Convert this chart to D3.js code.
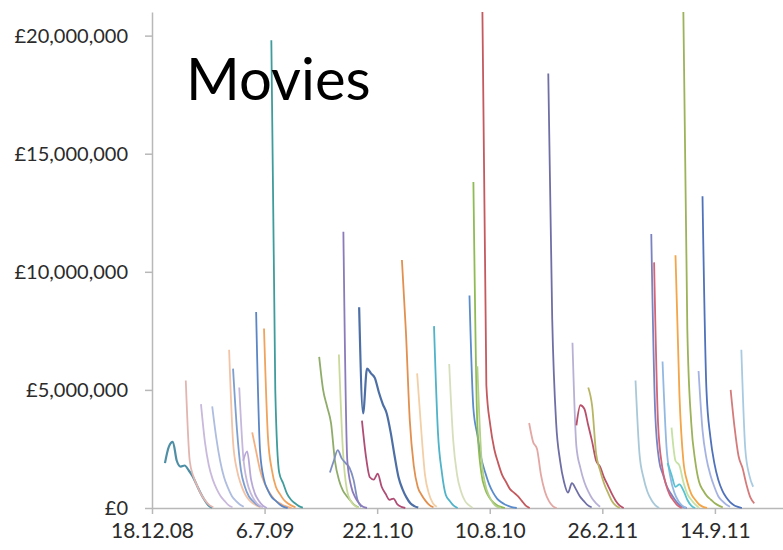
<!DOCTYPE html>
<html>
<head>
<meta charset="utf-8">
<script src="https://cdn.jsdelivr.net/npm/d3@7"></script>
<style>
  body { margin: 0; background: #fff; }
  svg { display: block; font-family: Lato, "Open Sans", sans-serif; }
</style>
</head>
<body>
<svg id="chart"></svg>
<script>
// weekly UK box office per film (GBP millions), first value = opening week
const releaseDates = [
  "2009-01-10", "2009-02-16", "2009-03-15", "2009-04-04", "2009-05-04",
  "2009-05-11", "2009-05-22", "2009-05-29", "2009-06-14", "2009-06-21",
  "2009-07-05", "2009-07-18", "2009-10-11", "2009-11-15", "2009-10-30",
  "2009-11-23", "2009-12-21", "2009-12-26", "2010-03-07", "2010-04-03",
  "2010-05-03", "2010-05-30", "2010-07-05", "2010-07-12", "2010-07-19",
  "2010-07-28", "2010-10-19", "2010-11-22", "2011-01-04", "2011-01-11",
  "2011-02-01", "2011-04-26", "2011-05-24", "2011-05-29", "2011-06-13",
  "2011-06-29", "2011-06-22", "2011-07-06", "2011-07-20", "2011-08-16",
  "2011-08-23", "2011-10-12", "2011-10-31"
];

const weeklyGross = [
  [1.9, 2.6, 2.8, 2.0, 1.75, 1.8, 1.6, 1.35, 1.0, 0.65, 0.35, 0.12, 0.02],
  [5.4, 2.0, 1.3, 0.9, 0.55, 0.3, 0.12, 0.03],
  [4.4, 2.8, 1.8, 1.2, 0.8, 0.5, 0.3, 0.12, 0.03],
  [4.3, 3.0, 2.0, 1.3, 0.85, 0.5, 0.3, 0.15, 0.05],
  [6.7, 2.8, 1.6, 1.0, 0.6, 0.35, 0.2, 0.1, 0.03],
  [5.9, 3.3, 1.6, 0.9, 0.5, 0.3, 0.15, 0.05],
  [5.1, 2.2, 1.1, 0.6, 0.3, 0.12, 0.03],
  [2.0, 2.4, 1.2, 0.6, 0.3, 0.1, 0.0],
  [3.2, 2.4, 1.6, 1.1, 0.75, 0.5, 0.3, 0.2, 0.1, 0.05, 0.0],
  [8.3, 2.4, 1.2, 0.75, 0.45, 0.3, 0.15, 0.05, 0.0],
  [7.6, 3.0, 1.6, 0.9, 0.6, 0.35, 0.2, 0.1, 0.03],
  [19.8, 5.0, 1.5, 1.05, 0.6, 0.35, 0.2, 0.08, 0.02],
  [6.4, 5.0, 4.3, 3.6, 2.0, 1.2, 0.75, 0.5, 0.3, 0.12, 0.03],
  [6.5, 2.5, 0.8, 0.3, 0.1, 0.0],
  [1.5, 2.0, 2.45, 2.1, 1.9, 1.7, 1.2, 0.35, 0.05],
  [11.7, 2.0, 0.9, 0.45, 0.2, 0.05, 0.0],
  [8.5, 4.0, 5.9, 5.7, 5.5, 4.9, 4.4, 4.0, 3.2, 2.2, 1.3, 0.8, 0.45, 0.2, 0.08, 0.02],
  [3.7, 2.2, 1.3, 1.2, 1.45, 0.9, 0.6, 0.35, 0.4, 0.15, 0.05, 0.0],
  [10.5, 7.5, 3.7, 1.8, 0.9, 0.55, 0.3, 0.12, 0.03],
  [5.7, 3.4, 1.4, 0.6, 0.2, 0.05],
  [7.7, 3.2, 1.5, 0.55, 0.3, 0.1, 0.0],
  [6.1, 2.9, 1.4, 0.7, 0.3, 0.12, 0.0],
  [9.0, 4.2, 3.1, 2.1, 1.5, 1.0, 0.65, 0.4, 0.25, 0.15, 0.08, 0.03, 0.0],
  [13.8, 3.5, 1.5, 0.8, 0.45, 0.25, 0.12, 0.05, 0.0],
  [6.0, 2.2, 1.0, 0.5, 0.2, 0.05, 0.0],
  [21.0, 5.2, 3.5, 2.5, 1.9, 1.4, 1.1, 0.8, 0.65, 0.5, 0.3, 0.1, 0.0],
  [3.6, 2.8, 2.5, 1.4, 0.7, 0.3, 0.08, 0.0],
  [18.4, 8.0, 3.6, 2.0, 1.1, 0.65, 1.05, 0.8, 0.5, 0.3, 0.12, 0.03],
  [7.0, 2.6, 1.7, 1.1, 0.7, 0.4, 0.2, 0.05],
  [3.5, 4.35, 4.2, 3.5, 2.8, 2.0, 1.75, 1.3, 0.95, 0.6, 0.3, 0.1, 0.0],
  [5.1, 4.3, 2.3, 1.6, 1.05, 0.65, 0.3, 0.1, 0.0],
  [5.4, 2.3, 1.3, 0.7, 0.35, 0.12, 0.0],
  [11.6, 4.0, 2.0, 1.4, 0.9, 0.6, 0.35, 0.15, 0.05, 0.0],
  [10.4, 3.6, 1.8, 1.0, 0.55, 0.3, 0.1, 0.0],
  [6.2, 2.6, 1.3, 0.65, 0.3, 0.1, 0.0],
  [3.4, 2.0, 1.8, 1.1, 0.6, 0.35, 0.15, 0.0],
  [1.9, 1.4, 0.9, 1.0, 0.75, 0.35, 0.1, 0.0],
  [10.7, 4.8, 2.0, 1.1, 0.6, 0.35, 0.15, 0.05, 0.0],
  [21.0, 7.6, 3.6, 2.0, 1.1, 0.75, 0.5, 0.35, 0.2, 0.1, 0.03],
  [5.8, 3.3, 2.1, 1.4, 0.9, 0.5, 0.3, 0.15, 0.05],
  [13.2, 5.0, 3.0, 1.9, 1.2, 0.75, 0.45, 0.25, 0.12, 0.05, 0.0],
  [5.0, 3.4, 2.2, 1.7, 1.0, 0.45, 0.2],
  [6.7, 2.5, 1.4, 0.9]
];

const lineColors = [
  "#4f8fa6", "#e2b5b0", "#c9b9dc", "#aebde0", "#f2c3a6",
  "#7d9fd0", "#c5b8dc", "#b8a8d8", "#f4b080", "#5b86c6",
  "#f0a35c", "#3f9c9c", "#8fac6a", "#c9d99a", "#7f8fc0",
  "#8a7bba", "#4d6fa5", "#b04d75", "#e2904f", "#f2cfa6",
  "#4fb3c9", "#d5dfbb", "#5a8ccc", "#8fbb55", "#b4cf8a",
  "#c4595e", "#e3a7a4", "#6f6fa6", "#b9b0d6", "#b9506a",
  "#b8b565", "#a9c9d9", "#7a83c2", "#d26577", "#93b9e2",
  "#c5e1a3", "#58c2d2", "#f3a548", "#9cb35a", "#a5b3e3",
  "#4f72ba", "#d57b7b", "#a9cbe2"
];

const xTicks = ["2008-12-18", "2009-07-06", "2010-01-22", "2010-08-10", "2011-02-26", "2011-09-14"];
const yTicks = [0, 5e6, 10e6, 15e6, 20e6];
const xRange = ["2008-12-18", "2012-01-13"];
const yMax = 21e6;

const width = 783, height = 550;
const margin = { top: 12, right: 0, bottom: 42, left: 152 };

const parse = d3.timeParse("%Y-%m-%d");

const svg = d3.select("#chart").attr("width", width).attr("height", height);

const x = d3.scaleTime()
  .domain(xRange.map(parse))
  .range([margin.left, width - margin.right]);
const y = d3.scaleLinear()
  .domain([0, yMax])
  .range([height - margin.bottom, margin.top]);

const series = weeklyGross.map((vals, i) =>
  vals.map((v, k) => ({
    date: d3.timeDay.offset(parse(releaseDates[i]), 7 * k),
    value: v * 1e6,
  }))
);

const yAxis = svg.append("g")
  .attr("transform", `translate(${margin.left},0)`)
  .call(d3.axisLeft(y)
    .tickValues(yTicks)
    .tickFormat(d => "£" + d3.format(",")(d))
    .tickSizeInner(7)
    .tickSizeOuter(0)
    .tickPadding(17));

const xAxis = svg.append("g")
  .attr("transform", `translate(0,${height - margin.bottom})`)
  .call(d3.axisBottom(x)
    .tickValues(xTicks.map(parse))
    .tickFormat(d3.timeFormat("%-d.%-m.%y"))
    .tickSizeInner(6)
    .tickSizeOuter(0)
    .tickPadding(9));

[yAxis, xAxis].forEach(g => {
  g.attr("font-family", null).attr("font-size", null);
  g.select(".domain").attr("stroke", "#b8b8b8").attr("stroke-width", 1.5);
  g.selectAll(".tick line").attr("stroke", "#b8b8b8").attr("stroke-width", 1.5);
  g.selectAll(".tick text").attr("fill", "#2b2b2b");
});
yAxis.selectAll(".tick text").style("font-size", "20px");
xAxis.selectAll(".tick text").style("font-size", "21px");

const line = d3.line()
  .x(d => x(d.date))
  .y(d => y(d.value))
  .curve(d3.curveMonotoneX);

svg.append("g")
  .selectAll("path")
  .data(series)
  .join("path")
  .attr("d", line)
  .attr("fill", "none")
  .attr("stroke", (d, i) => lineColors[i])
  .attr("stroke-width", (d, i) => (i === 0 || i === 16 ? 2.2 : 1.8))
  .attr("stroke-linejoin", "round");

svg.append("text")
  .attr("x", 186)
  .attr("y", 100)
  .style("font-size", "58px")
  .attr("fill", "#000")
  .text("Movies");
</script>
</body>
</html>
